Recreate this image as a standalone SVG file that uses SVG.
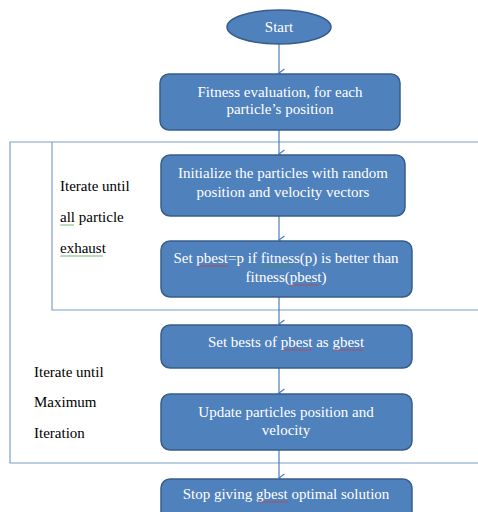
<svg xmlns="http://www.w3.org/2000/svg" width="478" height="512" viewBox="0 0 478 512">
<defs>
<style>
.node{fill:#4F81BD;stroke:#385D8A;stroke-width:1.5}
.nt{fill:#FFFFFF;font-family:'Liberation Serif','DejaVu Serif',serif;font-size:15px;text-anchor:middle}
.lbl{fill:#000000;font-family:'Liberation Serif','DejaVu Serif',serif;font-size:15px}
.conn{stroke:#4A7EBB;stroke-width:1.2;fill:none}
.loop{stroke:#7B9FCC;stroke-width:1.2;fill:none}
.sqr{stroke:#D04040;stroke-width:0.8;fill:none}
.sqg{stroke:#40A040;stroke-width:0.8;fill:none}
</style>
<marker id="arr" markerWidth="10" markerHeight="8" refX="5" refY="6.5" orient="auto" markerUnits="userSpaceOnUse" viewBox="0 0 10 8">
<path d="M1,1 L5,6.5 L9,1" fill="none" stroke="#4A7EBB" stroke-width="1.2"/>
</marker>
<path id="wv" d="M0,0 l1,1 l1,-1 l1,1 l1,-1 l1,1 l1,-1 l1,1 l1,-1 l1,1 l1,-1 l1,1 l1,-1 l1,1 l1,-1 l1,1 l1,-1 l1,1 l1,-1 l1,1 l1,-1 l1,1 l1,-1 l1,1 l1,-1 l1,1 l1,-1 l1,1 l1,-1 l1,1 l1,-1"/>
</defs>
<rect width="478" height="512" fill="#FFFFFF"/>

<g id="loops">
<path class="loop" d="M478,142 H10 V463 H478"/>
<path class="loop" d="M52,142 V310 H478"/>
</g>

<g id="connectors">
<line class="conn" x1="279" y1="44" x2="279" y2="73" marker-end="url(#arr)"/>
<line class="conn" x1="279" y1="130" x2="279" y2="154" marker-end="url(#arr)"/>
<line class="conn" x1="279" y1="216" x2="279" y2="240" marker-end="url(#arr)"/>
<line class="conn" x1="279" y1="297" x2="279" y2="324" marker-end="url(#arr)"/>
<line class="conn" x1="279" y1="368" x2="279" y2="393" marker-end="url(#arr)"/>
<line class="conn" x1="279" y1="450" x2="279" y2="478" marker-end="url(#arr)"/>
</g>

<g id="start">
<ellipse class="node" cx="279" cy="27" rx="52" ry="17"/>
<text class="nt" x="279" y="32">Start</text>
</g>

<g id="fitness">
<rect class="node" x="160" y="74" width="240" height="56" rx="9"/>
<text class="nt" x="280" y="97">Fitness evaluation, for each</text>
<text class="nt" x="280" y="114">particle’s position</text>
</g>

<g id="init">
<rect class="node" x="161" y="155" width="244" height="61" rx="9"/>
<text class="nt" x="283" y="178">Initialize the particles with random</text>
<text class="nt" x="283" y="197">position and velocity vectors</text>
</g>

<g id="setpbest">
<rect class="node" x="161" y="241" width="251" height="56" rx="9"/>
<text class="nt" x="286" y="263">Set pbest=p if fitness(p) is better than</text>
<text class="nt" x="286" y="282">fitness(pbest)</text>
<svg x="197" y="265" width="31" height="2" overflow="hidden"><use href="#wv" class="sqr" y="0.5"/></svg>
<svg x="262" y="265" width="31" height="2" overflow="hidden"><use href="#wv" class="sqg" y="0.5"/></svg>
<svg x="289" y="284" width="31" height="2" overflow="hidden"><use href="#wv" class="sqr" y="0.5"/></svg>
</g>

<g id="setgbest">
<rect class="node" x="161" y="325" width="251" height="43" rx="9"/>
<text class="nt" x="286" y="347">Set bests of pbest as gbest</text>
<svg x="282" y="349" width="31" height="2" overflow="hidden"><use href="#wv" class="sqr" y="0.5"/></svg>
<svg x="333" y="349" width="30" height="2" overflow="hidden"><use href="#wv" class="sqr" y="0.5"/></svg>
</g>

<g id="update">
<rect class="node" x="161" y="394" width="251" height="56" rx="9"/>
<text class="nt" x="286" y="417">Update particles position and</text>
<text class="nt" x="286" y="435">velocity</text>
</g>

<g id="stop">
<rect class="node" x="161" y="479" width="251" height="45" rx="9"/>
<text class="nt" x="286" y="499">Stop giving gbest optimal solution</text>
<svg x="258" y="501" width="30" height="2" overflow="hidden"><use href="#wv" class="sqr" y="0.5"/></svg>
</g>

<g id="labels">
<text class="lbl" x="60" y="191">Iterate until</text>
<text class="lbl" x="60" y="222">all particle</text>
<text class="lbl" x="60" y="253">exhaust</text>
<svg x="60" y="224" width="14" height="2" overflow="hidden"><use href="#wv" class="sqg" y="0.5"/></svg>
<svg x="60" y="255" width="43" height="2" overflow="hidden"><use href="#wv" class="sqg" y="0.5"/><use href="#wv" class="sqg" x="30" y="0.5"/></svg>
<text class="lbl" x="34" y="377">Iterate until</text>
<text class="lbl" x="34" y="407">Maximum</text>
<text class="lbl" x="34" y="438">Iteration</text>
</g>
</svg>
